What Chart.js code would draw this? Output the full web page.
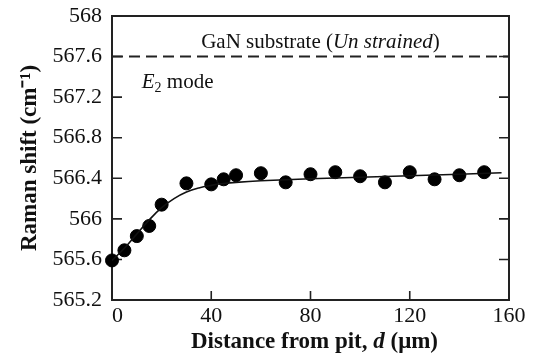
<!DOCTYPE html>
<html>
<head>
<meta charset="utf-8">
<script src="https://cdn.jsdelivr.net/npm/chart.js@4/dist/chart.umd.min.js"></script>
<style>
html,body{margin:0;padding:0;background:#fff;}
#wrap{width:533px;height:356px;}
</style>
</head>
<body>
<div id="wrap"><canvas id="c" width="533" height="356"></canvas></div>
<script>
// Measured data points (distance from pit in µm, Raman shift in cm^-1)
const distance = [0, 5, 10, 15, 20, 30, 40, 45, 50, 60, 70, 80, 90, 100, 110, 120, 130, 140, 150];
const ramanShift = [565.59, 565.69, 565.83, 565.93, 566.14, 566.35, 566.34, 566.39, 566.43, 566.45, 566.36, 566.44, 566.46, 566.42, 566.36, 566.46, 566.39, 566.43, 566.46];
// Fitted curve
const fitX = [0, 5, 10, 15, 20, 25, 30, 35, 40, 45, 50, 60, 80, 100, 120, 140, 157];
const fitY = [565.59, 565.71, 565.85, 565.99, 566.11, 566.2, 566.265, 566.305, 566.33, 566.348, 566.36, 566.375, 566.395, 566.41, 566.425, 566.44, 566.455];
// Unstrained GaN substrate reference line
const substrateX = [0, 160];
const substrateY = [567.6, 567.6];
// Axis ticks
const xTicks = [0, 40, 80, 120, 160];
const yTicks = [565.2, 565.6, 566, 566.4, 566.8, 567.2, 567.6, 568];

const SERIF = "'Liberation Serif','Times New Roman',serif";

function drawParts(ctx, parts, cx, cy) {
  let total = 0;
  parts.forEach(p => { ctx.font = p[1]; total += ctx.measureText(p[0]).width; });
  let x = cx - total / 2;
  ctx.textAlign = 'left';
  parts.forEach(p => { ctx.font = p[1]; ctx.fillText(p[0], x, cy); x += ctx.measureText(p[0]).width; });
}

const framePlugin = {
  id: 'frame',
  beforeDatasetsDraw(chart) {
    const {ctx, chartArea: a, scales} = chart;
    ctx.save();
    ctx.strokeStyle = '#222';
    ctx.lineWidth = 2;
    ctx.strokeRect(a.left, a.top, a.right - a.left, a.bottom - a.top);
    ctx.lineWidth = 1.6;
    ctx.beginPath();
    yTicks.forEach(v => {
      const y = scales.y.getPixelForValue(v);
      ctx.moveTo(a.left, y); ctx.lineTo(a.left + 10, y);
      ctx.moveTo(a.right, y); ctx.lineTo(a.right - 10, y);
    });
    xTicks.forEach(v => {
      const x = scales.x.getPixelForValue(v);
      ctx.moveTo(x, a.bottom); ctx.lineTo(x, a.bottom - 9);
    });
    ctx.stroke();
    ctx.restore();
  },
  afterDraw(chart) {
    const {ctx, scales, chartArea: a} = chart;
    ctx.save();
    ctx.fillStyle = '#111';
    ctx.textBaseline = 'middle';
    drawParts(ctx, [
      ['GaN substrate (', '21px ' + SERIF],
      ['Un strained', 'italic 21px ' + SERIF],
      [')', '21px ' + SERIF]
    ], scales.x.getPixelForValue(84), scales.y.getPixelForValue(567.74));
    // "E2 mode"
    let x2 = scales.x.getPixelForValue(12);
    const y2 = scales.y.getPixelForValue(567.34);
    ctx.textAlign = 'left';
    ctx.font = 'italic 21px ' + SERIF;
    ctx.fillText('E', x2, y2);
    x2 += ctx.measureText('E').width;
    ctx.font = '14px ' + SERIF;
    ctx.fillText('2', x2, y2 + 5);
    x2 += ctx.measureText('2').width;
    ctx.font = '21px ' + SERIF;
    ctx.fillText(' mode', x2, y2);
    // x-axis title with italic d
    drawParts(ctx, [
      ['Distance from pit, ', 'bold 23px ' + SERIF],
      ['d', 'italic bold 23px ' + SERIF],
      [' (\u03bcm)', 'bold 23px ' + SERIF]
    ], (a.left + a.right) / 2 + 4, 342);
    ctx.restore();
  }
};

new Chart(document.getElementById('c'), {
  type: 'scatter',
  data: {
    datasets: [
      {
        label: 'GaN substrate',
        type: 'line',
        data: substrateX.map((v, i) => ({x: v, y: substrateY[i]})),
        borderColor: '#222',
        borderWidth: 2,
        borderDash: [11, 6],
        pointRadius: 0,
        fill: false
      },
      {
        label: 'Fit',
        type: 'line',
        data: fitX.map((v, i) => ({x: v, y: fitY[i]})),
        borderColor: '#111',
        borderWidth: 1.6,
        pointRadius: 0,
        tension: 0.4,
        fill: false
      },
      {
        label: 'E2 mode',
        data: distance.map((v, i) => ({x: v, y: ramanShift[i]})),
        backgroundColor: '#000',
        borderColor: '#000',
        pointRadius: 6.5,
        pointHoverRadius: 6.5,
        clip: false
      }
    ]
  },
  options: {
    responsive: false,
    animation: false,
    events: [],
    layout: {padding: {left: 0, right: 24, top: 16, bottom: 0}},
    plugins: {legend: {display: false}, tooltip: {enabled: false}},
    scales: {
      x: {
        type: 'linear',
        min: 0, max: 160,
        grid: {display: false, drawTicks: false},
        border: {display: false},
        afterBuildTicks: s => { s.ticks = xTicks.map(v => ({value: v})); },
        afterFit: s => { s.height = 56; },
        ticks: {
          padding: 3,
          color: '#111',
          font: {family: SERIF, size: 22},
          maxRotation: 0,
          callback: v => (v === 0 ? '\u20020' : String(v))
        },
        title: {display: false}
      },
      y: {
        type: 'linear',
        min: 565.2, max: 568,
        grid: {display: false, drawTicks: false},
        border: {display: false},
        afterBuildTicks: s => { s.ticks = yTicks.map(v => ({value: v})); },
        afterFit: s => { s.width = 112; },
        ticks: {
          padding: 10,
          color: '#111',
          font: {family: SERIF, size: 22, lineHeight: 0.5},
          callback: v => String(+Number(v).toFixed(1))
        },
        title: {
          display: true,
          text: 'Raman shift (cm\u207b\u00b9)',
          color: '#111',
          font: {family: SERIF, size: 23, weight: 'bold'},
          padding: {top: 16, bottom: 0}
        }
      }
    }
  },
  plugins: [framePlugin]
});
</script>
</body>
</html>
